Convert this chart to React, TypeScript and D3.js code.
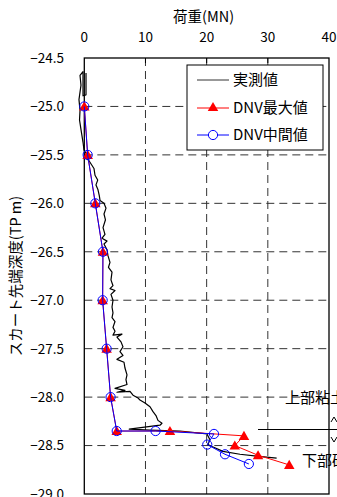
import React from 'react';
import * as d3 from 'd3';

// axis ticks
const loadTicks = [0, 10, 20, 30, 40];
const depthTicks = [-24.5, -25.0, -25.5, -26.0, -26.5, -27.0, -27.5, -28.0, -28.5, -29.0];

// DNV estimates (load MN, depth TP m)
const dnvMaxLoad = [0, 0.55, 1.8, 3.05, 3.0, 3.65, 4.3, 5.3, 14.0, 26.1, 24.6, 28.4, 33.5];
const dnvMaxDepth = [-25.0, -25.5, -26.0, -26.5, -27.0, -27.5, -28.0, -28.35, -28.35, -28.4, -28.5, -28.6, -28.7];
const dnvMidLoad = [0, 0.55, 1.8, 3.05, 3.0, 3.65, 4.3, 5.3, 11.65, 21.2, 20.1, 23.0, 26.9];
const dnvMidDepth = [-25.0, -25.5, -26.0, -26.5, -27.0, -27.5, -28.0, -28.35, -28.35, -28.38, -28.49, -28.59, -28.69];

const measuredLoad = [
  0.28, 0.28, -0.21, -0.21, -0.7, -0.54, -0.87, -0.7, -0.78, -0.54, -0.21, -0.05,
  0.44, 0.28, 0.77, 1.58, 1.75, 2.19, 1.91, 2.24, 2.45, 2.57, 3.22, 3.55, 3.22,
  3.46, 3.06, 3.38, 2.9, 3.71, 3.22, 3.71, 3.87, 4.2, 3.95, 4.53, 4.36, 4.69,
  4.2, 5.02, 4.36, 4.69, 4.53, 4.69, 4.53, 5.02, 4.69, 5.02, 4.69, 6.16, 5.34,
  6.0, 6.32, 5.83, 6.32, 5.34, 6.49, 6.65, 6.98, 6.81, 6.98, 5.02, 6.65, 5.34,
  7.47, 7.96, 8.79, 9.1, 9.92, 10.74, 11.23, 11.72, 12.04, 12.7, 12.37, 7.35,
  10.74, 15.64, 20.05, 20.54, 20.2, 20.87, 22.66, 25.44, 28.17, 31.44
];
const measuredDepth = [
  -24.655, -24.88, -24.89, -24.64, -24.68, -24.78, -24.93, -25.04, -25.14, -25.24, -25.37, -25.45,
  -25.5, -25.53, -25.56, -25.64, -25.71, -25.76, -25.81, -25.86, -25.92, -25.97, -26.0, -26.05, -26.11,
  -26.17, -26.25, -26.32, -26.36, -26.39, -26.42, -26.48, -26.54, -26.61, -26.66, -26.71, -26.79, -26.85,
  -26.88, -26.9, -26.94, -27.0, -27.07, -27.13, -27.18, -27.22, -27.28, -27.32, -27.36, -27.35, -27.38,
  -27.43, -27.48, -27.53, -27.57, -27.61, -27.64, -27.7, -27.77, -27.82, -27.87, -27.91, -27.93, -27.95,
  -27.94, -27.98, -28.01, -28.03, -28.06, -28.1, -28.15, -28.19, -28.24, -28.27, -28.29, -28.33,
  -28.34, -28.35, -28.38, -28.44, -28.49, -28.51, -28.56, -28.59, -28.61, -28.63
];

const W = 337;
const H = 497;
const font = '"Noto Sans CJK JP", "Noto Sans", sans-serif';

const App: React.FC = () => {
  const x = d3.scaleLinear().domain([0, 40]).range([84.3, 329]);
  const y = d3.scaleLinear().domain([-24.5, -29]).range([58, 494]);
  const [x0, x1] = x.range();
  const [y0, y1] = y.range();

  const line = d3.line<[number, number]>()
    .x(d => x(d[0]))
    .y(d => y(d[1]));

  const measured = measuredLoad.map((v, i) => [v, measuredDepth[i]] as [number, number]);
  const dnvMax = dnvMaxLoad.map((v, i) => [v, dnvMaxDepth[i]] as [number, number]);
  const dnvMid = dnvMidLoad.map((v, i) => [v, dnvMidDepth[i]] as [number, number]);

  const fmt = d3.format('.1f');
  const tri = d3.symbol(d3.symbolTriangle, 48)();

  // legend placement
  const lg = { x: 187, y: 65, w: 136, h: 85 };
  const rows = [80, 108, 135];

  return (
    <svg width={W} height={H} style={{ position: 'absolute', left: 0, top: 0, background: 'white' }}
      fontFamily={font}>
      <rect width={W} height={H} fill="white" />

      {/* grid */}
      {depthTicks.slice(1, -1).map(d => (
        <line key={'h' + d} x1={x0} x2={x1} y1={y(d)} y2={y(d)}
          stroke="#333" strokeWidth={1} strokeDasharray="8,5" />
      ))}
      {loadTicks.slice(1, -1).map(v => (
        <line key={'v' + v} x1={x(v)} x2={x(v)} y1={y0} y2={y1}
          stroke="#333" strokeWidth={1} strokeDasharray="8,5" />
      ))}
      {loadTicks.slice(1, -1).map(v => (
        <line key={'t' + v} x1={x(v)} x2={x(v)} y1={y0} y2={y0 + 5} stroke="#000" />
      ))}

      {/* frame */}
      <rect x={x0} y={y0} width={x1 - x0} height={y1 - y0} fill="none" stroke="#000" strokeWidth={1.3} />

      {/* tick labels */}
      {loadTicks.map(v => (
        <text key={'xl' + v} x={x(v)} y={41.5} textAnchor="middle" fontSize={13.5} fill="#000">{v}</text>
      ))}
      {depthTicks.map(d => (
        <text key={'yl' + d} x={64} y={y(d)} dy="0.36em" textAnchor="end" fontSize={13.5} fill="#000">{fmt(d)}</text>
      ))}

      {/* titles */}
      <text x={(x0 + x1) / 2 - 3} y={22} textAnchor="middle" fontSize={14.5} fill="#000">荷重(MN)</text>
      <text transform={`translate(16,${(y0 + y1) / 2}) rotate(-90)`} textAnchor="middle" dy="0.36em"
        fontSize={14.5} fill="#000">スカート先端深度(TP m)</text>

      {/* measured */}
      <path d={line(measured) || ''} fill="none" stroke="#000" strokeWidth={1.2} strokeLinejoin="round" />

      {/* DNV max */}
      <path d={line(dnvMax) || ''} fill="none" stroke="#ff0000" strokeWidth={1} />
      {dnvMax.map((p, i) => (
        <path key={'r' + i} d={tri || ''} transform={`translate(${x(p[0])},${y(p[1]) + 1})`} fill="#ff0000" />
      ))}

      {/* DNV mid */}
      <path d={line(dnvMid) || ''} fill="none" stroke="#0000ff" strokeWidth={1} />
      {dnvMid.map((p, i) => (
        <circle key={'b' + i} cx={x(p[0])} cy={y(p[1])} r={4.6} fill="none" stroke="#0000ff" strokeWidth={1} />
      ))}

      {/* layer boundary */}
      <line x1={258} x2={W} y1={429.5} y2={429.5} stroke="#000" strokeWidth={1} />
      <path d="M331,422 L334,417 L337,422" fill="none" stroke="#000" />
      <path d="M331,437 L334,442 L337,437" fill="none" stroke="#000" />
      <text x={285} y={403} fontSize={15} fill="#000">上部粘土層</text>
      <text x={302} y={466} fontSize={15} fill="#000">下部砂層</text>

      {/* legend */}
      <rect x={lg.x} y={lg.y} width={lg.w} height={lg.h} fill="white" stroke="#000" strokeWidth={1} />
      <line x1={197} x2={229} y1={rows[0]} y2={rows[0]} stroke="#333" />
      <text x={233} y={rows[0]} dy="0.36em" fontSize={15} fill="#000">実測値</text>
      <line x1={197} x2={229} y1={rows[1]} y2={rows[1]} stroke="#ff0000" />
      <path d={tri || ''} transform={`translate(213,${rows[1]})`} fill="#ff0000" />
      <text x={233} y={rows[1]} dy="0.36em" fontSize={15} fill="#000">DNV最大値</text>
      <line x1={197} x2={229} y1={rows[2]} y2={rows[2]} stroke="#0000ff" />
      <circle cx={213} cy={rows[2]} r={4.6} fill="white" stroke="#0000ff" />
      <text x={233} y={rows[2]} dy="0.36em" fontSize={15} fill="#000">DNV中間値</text>
    </svg>
  );
};

export default App;
